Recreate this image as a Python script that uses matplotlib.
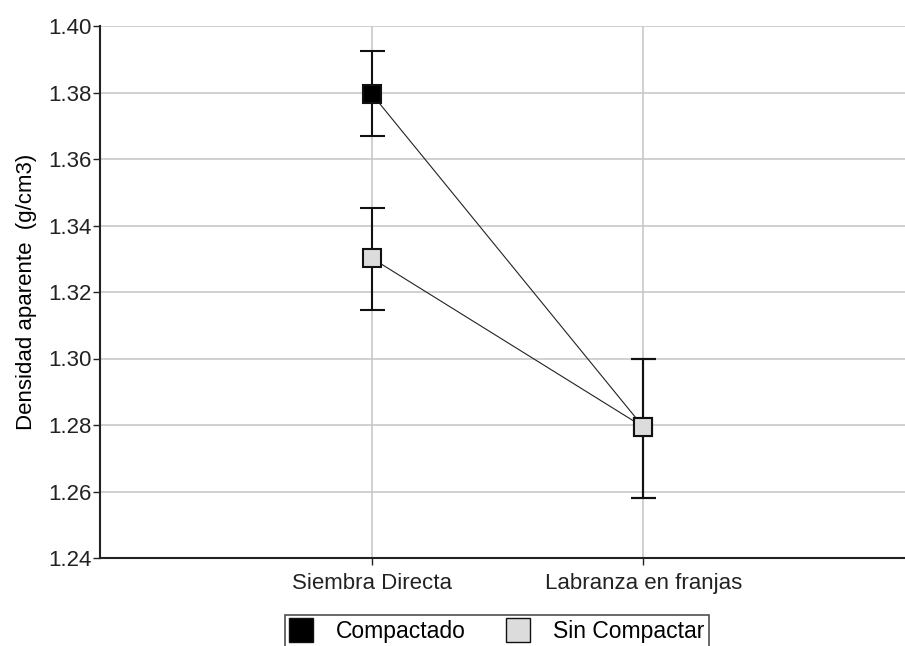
import numpy as np
import matplotlib.pyplot as plt
from matplotlib.lines import Line2D

plt.rcParams['font.family'] = ['Liberation Sans', 'DejaVu Sans']

categorias = ['Siembra Directa', 'Labranza en franjas']
series = ['Compactado', 'Sin Compactar']
media_comp = [1.3796, 1.2794]
err_comp_sup = [1.3925, 1.2999]
err_comp_inf = [1.3669, 1.2580]
media_sin = [1.3302, 1.2794]
err_sin_sup = [1.3453, 1.2999]
err_sin_inf = [1.3146, 1.2580]
yticks = [1.24, 1.26, 1.28, 1.30, 1.32, 1.34, 1.36, 1.38, 1.40]

fig = plt.figure(figsize=(9.05, 6.46), dpi=100)
ax = fig.add_axes([100/905, 1-558/646, 815/905, (558-26)/646])

x = np.arange(1, len(categorias)+1)
ax.set_xlim(0, 3)
ax.set_ylim(1.24, 1.40)
ax.set_yticks(yticks)
ax.set_yticklabels(['%.2f' % v for v in yticks])
ax.set_xticks(x)
ax.set_xticklabels(categorias)
ax.grid(True, color='#c8c8c8', lw=1.2)
ax.set_axisbelow(True)
for s in ['top', 'right']:
    ax.spines[s].set_visible(False)
for s in ['left', 'bottom']:
    ax.spines[s].set_linewidth(1.5)
    ax.spines[s].set_color('#222222')
ax.tick_params(axis='both', length=5, width=1, labelsize=16, colors='#222222', pad=1)
ax.tick_params(axis='x', pad=6)
ax.set_ylabel('Densidad aparente  (g/cm3)', fontsize=16, labelpad=8)

def dibujar(media, sup, inf, color, z):
    yerr = [np.array(media)-np.array(inf), np.array(sup)-np.array(media)]
    ax.errorbar(x, media, yerr=yerr, fmt='none', ecolor='#111111', elinewidth=1.5,
                capsize=9, capthick=1.5, zorder=z)
    ax.plot(x, media, color='#222222', lw=0.8, zorder=z+1)
    ax.plot(x, media, 's', ms=13, mfc=color, mec='#111111', mew=1.5, zorder=z+2)

dibujar(media_comp, err_comp_sup, err_comp_inf, 'black', 3)
dibujar(media_sin, err_sin_sup, err_sin_inf, '#dcdcdc', 6)

handles = [Line2D([], [], ls='none', marker='s', ms=17, mfc='black', mec='#111111'),
           Line2D([], [], ls='none', marker='s', ms=17, mfc='#dcdcdc', mec='#111111')]
leg = fig.legend(handles, series, loc='lower center', bbox_to_anchor=(497/905, -0.02), ncol=2,
                 fontsize=16.5, frameon=True, fancybox=False, edgecolor='#222222',
                 handletextpad=1.0, columnspacing=1.8, borderpad=0.2, handlelength=1.0)
leg.get_frame().set_linewidth(1.2)

fig.savefig('out.png', dpi=100)
